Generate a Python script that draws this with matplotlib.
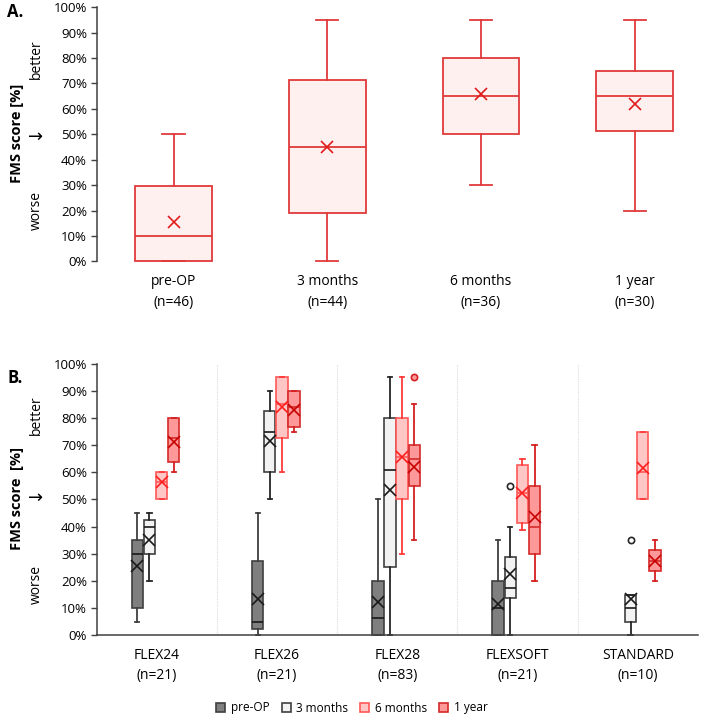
import matplotlib
matplotlib.use('Agg')
import numpy as np
from matplotlib import pyplot as plt
from matplotlib.patches import Patch
from matplotlib.ticker import FixedLocator

plt.rcParams['font.family'] = ['Open Sans', 'DejaVu Sans']

# ---- Panel A data (all patients) ----
times = ['pre-OP', '3 months', '6 months', '1 year']
n_a = [46, 44, 36, 30]
lo_a = [0, 0, 30, 20]
q1_a = [0, 19, 50, 51.3]
med_a = [10, 45, 65, 65]
q3_a = [29.5, 71.5, 80, 75]
hi_a = [50, 95, 95, 95]
mean_a = [15.5, 45, 65.7, 62]

# ---- Panel B data (per implant type), None = no data ----
groups = ['FLEX24', 'FLEX26', 'FLEX28', 'FLEXSOFT', 'STANDARD']
n_b = [21, 21, 83, 21, 10]

lo_pre = [5, 0, 0, 0, None]
q1_pre = [10, 2.5, 0, 0, None]
med_pre = [30, 5, 6.5, 10, None]
q3_pre = [35, 27.5, 20, 20, None]
hi_pre = [45, 45, 50, 35, None]
mean_pre = [25.4, 13.2, 12.1, 11.7, None]
fl_pre = [[], [], [], [], []]

lo_3m = [20, 50, 0, 0, 0]
q1_3m = [30, 60, 25, 13.7, 5]
med_3m = [40, 75, 61, 17.5, 10]
q3_3m = [42.5, 82.5, 80, 28.8, 15]
hi_3m = [45, 90, 95, 40, 15]
mean_3m = [35, 71.4, 53.6, 22.7, 13.2]
fl_3m = [[], [], [], [55], [35]]

lo_6m = [50, 60, 30, 38.6, 50]
q1_6m = [50, 72.5, 50, 41.5, 50]
med_6m = [56.5, 85, 65.5, 52.3, 60]
q3_6m = [60, 95, 80, 62.5, 75]
hi_6m = [60, 95, 95, 65, 75]
mean_6m = [56.5, 84.1, 65.8, 52.3, 61.7]
fl_6m = [[], [], [], [], []]

lo_1y = [60, 75, 35, 20, 20]
q1_1y = [63.7, 76.7, 55, 30, 23.7]
med_1y = [72.5, 84, 65, 40, 27.5]
q3_1y = [80, 90, 70, 55, 31.3]
hi_1y = [80, 90, 85, 70, 35]
mean_1y = [71, 83, 62, 43.4, 27.5]
fl_1y = [[], [], [95], [], []]

series_b = [
    (lo_pre, q1_pre, med_pre, q3_pre, hi_pre, mean_pre, fl_pre),
    (lo_3m, q1_3m, med_3m, q3_3m, hi_3m, mean_3m, fl_3m),
    (lo_6m, q1_6m, med_6m, q3_6m, hi_6m, mean_6m, fl_6m),
    (lo_1y, q1_1y, med_1y, q3_1y, hi_1y, mean_1y, fl_1y),
]

# styles: face, edge, whisker, mean marker
styles = [
    ('#7f7f7f', '#3f3f3f', '#3f3f3f', '#1a1a1a'),
    ('#f2f2f2', '#404040', '#262626', '#1a1a1a'),
    ('#ffc6c6', '#ff5757', '#ff3b3b', '#ff1f1f'),
    ('#ff9999', '#d42a2a', '#d42020', '#c80000'),
]
offsets = [-0.162, -0.061, 0.040, 0.141]

W, H = 704, 721
fig = plt.figure(figsize=(W / 100, H / 100), dpi=100)


def stats_list(lo, q1, med, q3, hi, mean, fl):
    out, idx = [], []
    for i in range(len(lo)):
        if lo[i] is None:
            continue
        out.append(dict(whislo=lo[i], q1=q1[i], med=med[i], q3=q3[i],
                        whishi=hi[i], mean=mean[i], fliers=fl[i]))
        idx.append(i)
    return out, idx


def unclip(art):
    for k in art:
        for a in art[k]:
            a.set_clip_on(False)


# ================= Panel A =================
axA = fig.add_axes([96.7 / W, 1 - 261.3 / H, (700 - 96.7) / W, 254 / H])
sA, _ = stats_list(lo_a, q1_a, med_a, q3_a, hi_a, mean_a, [[]] * 4)
colA = '#e03a3a'
art = axA.bxp(sA, positions=np.arange(4), widths=0.5, capwidths=0.145,
              patch_artist=True, showmeans=True, manage_ticks=False,
              boxprops=dict(facecolor='#fff0f0', edgecolor=colA, linewidth=1.3),
              whiskerprops=dict(color=colA, linewidth=1.3),
              capprops=dict(color=colA, linewidth=1.3),
              medianprops=dict(color=colA, linewidth=1.3),
              meanprops=dict(marker='x', markeredgecolor='#e01b1b',
                             markersize=8, markeredgewidth=1.2))
unclip(art)
axA.set_ylim(0, 100)
axA.set_xlim(-0.5, -0.5 + (700 - 96.7) / 153.7)
axA.set_yticks(np.arange(0, 101, 10))
axA.set_yticklabels([f'{v}%' for v in range(0, 101, 10)], fontsize=9.5)
axA.set_xticks(np.arange(4))
axA.set_xticklabels([f'{t}\n(n={n})' for t, n in zip(times, n_a)],
                    fontsize=10, linespacing=1.55)
axA.tick_params(axis='x', length=0, pad=9)
axA.tick_params(axis='y', length=4, width=1, color='#404040', pad=3)
for s in ['top', 'right', 'bottom']:
    axA.spines[s].set_visible(False)
axA.spines['left'].set_color('#404040')
axA.spines['left'].set_linewidth(1.1)

# ================= Panel B =================
axB = fig.add_axes([96.7 / W, 1 - 635.3 / H, (698 - 96.7) / W, 271.7 / H])
for t, ser in enumerate(series_b):
    face, edge, wcol, mcol = styles[t]
    st, idx = stats_list(*ser)
    pos = [i + offsets[t] for i in idx]
    art = axB.bxp(st, positions=pos, widths=0.095, capwidths=0.035,
                  patch_artist=True, showmeans=True, manage_ticks=False,
                  boxprops=dict(facecolor=face, edgecolor=edge, linewidth=1.2),
                  whiskerprops=dict(color=wcol, linewidth=1.3),
                  capprops=dict(color=wcol, linewidth=1.3),
                  medianprops=dict(color=edge if t >= 2 else '#1a1a1a', linewidth=1.2),
                  meanprops=dict(marker='x', markeredgecolor=mcol,
                                 markersize=9, markeredgewidth=1.2),
                  flierprops=dict(marker='o', markersize=4.5,
                                  markerfacecolor=face if t >= 2 else 'none',
                                  markeredgecolor=wcol, markeredgewidth=1.2))
    unclip(art)

axB.set_ylim(0, 100)
axB.set_xlim(-0.5, 4.5)
axB.set_yticks(np.arange(0, 101, 10))
axB.set_yticklabels([f'{v}%' for v in range(0, 101, 10)], fontsize=9.5)
axB.set_xticks(np.arange(5))
axB.set_xticklabels([f'{g}\n(n={n})' for g, n in zip(groups, n_b)],
                    fontsize=10, linespacing=1.45)
axB.xaxis.set_minor_locator(FixedLocator(np.arange(0.5, 5, 1)))
axB.grid(True, which='minor', axis='x', color='#dcdcdc', linewidth=0.8,
         linestyle=(0, (1, 1)))
axB.tick_params(axis='x', which='both', length=0, pad=9)
axB.tick_params(axis='y', length=4, width=1, color='#404040', pad=3)
for s in ['top', 'right']:
    axB.spines[s].set_visible(False)
for s in ['left', 'bottom']:
    axB.spines[s].set_color('#404040')
    axB.spines[s].set_linewidth(1.1)


# ---- axis annotations ----
def ftext(x, y, s, **kw):
    fig.text(x / W, 1 - y / H, s, ha='center', va='center', **kw)


ftext(15, 12, 'A.', fontsize=12, fontweight='bold')
ftext(17, 133, 'FMS score [%]', fontsize=10.5, fontweight='bold', rotation=90)
ftext(36, 59, 'better', fontsize=10, rotation=90)
ftext(36, 137, '→', fontsize=13, family='DejaVu Sans')
ftext(36, 210, 'worse', fontsize=10, rotation=90)

ftext(15, 378, 'B.', fontsize=12, fontweight='bold')
ftext(17, 499, 'FMS score  [%]', fontsize=10.5, fontweight='bold', rotation=90)
ftext(36, 415, 'better', fontsize=10, rotation=90)
ftext(36, 498, '→', fontsize=13, family='DejaVu Sans')
ftext(36, 584, 'worse', fontsize=10, rotation=90)

# ---- legend ----
handles = [Patch(facecolor=f, edgecolor=e, linewidth=1.2) for f, e, _, _ in styles]
fig.legend(handles, times, loc='center', bbox_to_anchor=(352 / W, 1 - 708 / H),
           ncol=4, frameon=False, fontsize=8.5, handlelength=0.75,
           handleheight=0.75, handletextpad=0.5, columnspacing=1.0)

fig.savefig('out.png', dpi=100)
